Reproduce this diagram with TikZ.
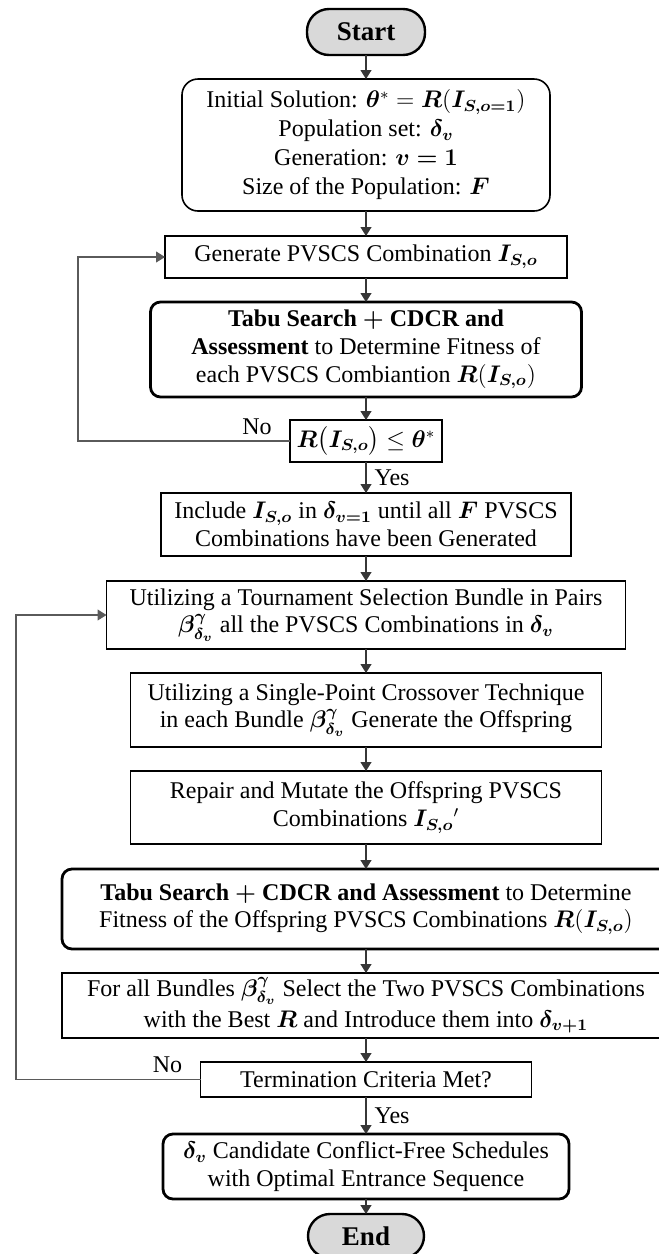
\documentclass[tikz,border=0pt]{standalone}
\usepackage{amsmath}
\usepackage{bm}
\usepackage{fontspec}
\setmainfont{Liberation Serif}
\usepackage{tikz}
\usetikzlibrary{positioning,arrows.meta,calc}
\definecolor{gFill}{RGB}{217,217,217}
\definecolor{gLine}{RGB}{55,55,55}
\definecolor{gLoop}{RGB}{90,90,90}
\newcommand{\boxfont}{\fontsize{12pt}{13.8pt}\selectfont}
\tikzset{
  startstop/.style={rectangle, rounded corners=11pt, draw=black, line width=1.2pt,
                    fill=gFill, minimum width=59pt, minimum height=23pt, outer sep=0pt,
                    font=\fontsize{13.5pt}{15pt}\selectfont\bfseries},
  initbox/.style={rectangle, rounded corners=8pt, draw=black, line width=0.8pt, outer sep=0pt,
                  align=center, inner sep=2pt, font=\fontsize{12pt}{14.5pt}\selectfont},
  proc/.style={rectangle, draw=black, line width=0.9pt, align=center, outer sep=0pt,
               inner sep=2pt, font=\boxfont},
  evalbox/.style={proc, rounded corners=5pt, line width=1.4pt},
  check/.style={proc},
  flow/.style={-{Triangle[length=4.5pt,width=5.5pt]}, draw=gLine, line width=0.6pt},
  loopflow/.style={flow, draw=gLoop, line width=0.55pt},
  lbl/.style={font=\boxfont, inner sep=1pt},
}

\begin{document}
\begin{tikzpicture}
  \useasboundingbox (0,0) rectangle (329.5pt,-627pt);

  \node[startstop] (start) at (183pt,-16pt) {Start};
  \node[initbox, minimum width=184pt, minimum height=66pt, below=12pt of start] (init)
    {Initial Solution: $\bm{\theta}^{*} = \bm{R}(\bm{I_{S,o=1}})$\\
     Population set: $\bm{\delta_v}$\\
     Generation: $\bm{v = 1}$\\
     Size of the Population: $\bm{F}$};
  \node[proc, minimum width=201pt, minimum height=21pt, below=12.5pt of init] (gen)
    {Generate PVSCS Combination $\bm{I_{S,o}}$};
  \node[evalbox, minimum width=215.5pt, minimum height=47.5pt, below=12pt of gen] (tabuA)
    {\textbf{Tabu Search $\bm{+}$ CDCR and}\\
     \textbf{Assessment} to Determine Fitness of\\
     each PVSCS Combiantion $\bm{R}(\bm{I_{S,o}})$};
  \node[check, minimum width=76pt, minimum height=21pt, below=11.5pt of tabuA] (condA)
    {$\bm{R}\bigl(\bm{I_{S,o}}\bigr) \le \bm{\theta}^{*}$};
  \node[proc, minimum width=205pt, minimum height=31.5pt, below=15.5pt of condA] (incl)
    {Include $\bm{I_{S,o}}$ in $\bm{\delta_{v=1}}$ until all $\bm{F}$ PVSCS\\
     Combinations have been Generated};
  \node[proc, minimum width=259.5pt, minimum height=34pt, below=12.5pt of incl] (tour)
    {Utilizing a Tournament Selection Bundle in Pairs\\
     $\bm{\beta^{\gamma}_{\delta_v}}$ all the PVSCS Combinations in $\bm{\delta_v}$};
  \node[proc, minimum width=235.5pt, minimum height=37pt, below=12pt of tour] (cross)
    {Utilizing a Single-Point Crossover Technique\\
     in each Bundle $\bm{\beta^{\gamma}_{\delta_v}}$ Generate the Offspring};
  \node[proc, minimum width=235.5pt, minimum height=36.5pt, below=12pt of cross] (repair)
    {Repair and Mutate the Offspring PVSCS\\
     Combinations $\bm{I_{S,o}}{}'$};
  \node[evalbox, minimum width=304pt, minimum height=40pt, below=12.5pt of repair] (tabuB)
    {\textbf{Tabu Search $\bm{+}$ CDCR and Assessment} to Determine\\
     Fitness of the Offspring PVSCS Combinations $\bm{R}(\bm{I_{S,o}})$};
  \node[proc, minimum width=304pt, minimum height=32.5pt, below=12pt of tabuB,
        font=\fontsize{12pt}{15.5pt}\selectfont] (best)
    {For all Bundles $\bm{\beta^{\gamma}_{\delta_v}}$ Select the Two PVSCS Combinations\\
     with the Best $\bm{R}$ and Introduce them into $\bm{\delta_{v+1}}$};
  \node[check, minimum width=165.5pt, minimum height=17.5pt, below=12pt of best] (termc)
    {Termination Criteria Met?};
  \node[evalbox, minimum width=203pt, minimum height=32.5pt, below=18.5pt of termc] (final)
    {$\bm{\delta_v}$ Candidate Conflict-Free Schedules\\
     with Optimal Entrance Sequence};
  \node[startstop, minimum width=58pt, minimum height=22pt, below=7.5pt of final] (stop) {End};

  % main flow
  \draw[flow] (start) -- (init);
  \draw[flow] (init) -- (gen);
  \draw[flow] (gen) -- (tabuA);
  \draw[flow] (tabuA) -- (condA);
  \draw[flow] (condA) -- node[lbl, right=3pt]{Yes} (incl);
  \draw[flow] (incl) -- (tour);
  \draw[flow] (tour) -- (cross);
  \draw[flow] (cross) -- (repair);
  \draw[flow] (repair) -- (tabuB);
  \draw[flow] (tabuB) -- (best);
  \draw[flow] (best) -- (termc);
  \draw[flow] (termc) -- node[lbl, right=3pt]{Yes} (final);
  \draw[flow] (final) -- (stop);

  % feedback loops
  \coordinate (backA) at (39pt,0);
  \coordinate (backB) at (8pt,0);
  \draw[loopflow] (condA.west) -- (condA.west -| backA) |- (gen.west);
  \node[lbl, above left=2pt and 8pt of condA.west] {No};
  \draw[loopflow] (termc.west) -- (termc.west -| backB) |- (tour.west);
  \node[lbl, above left=2pt and 8pt of termc.west] {No};
\end{tikzpicture}
\end{document}
